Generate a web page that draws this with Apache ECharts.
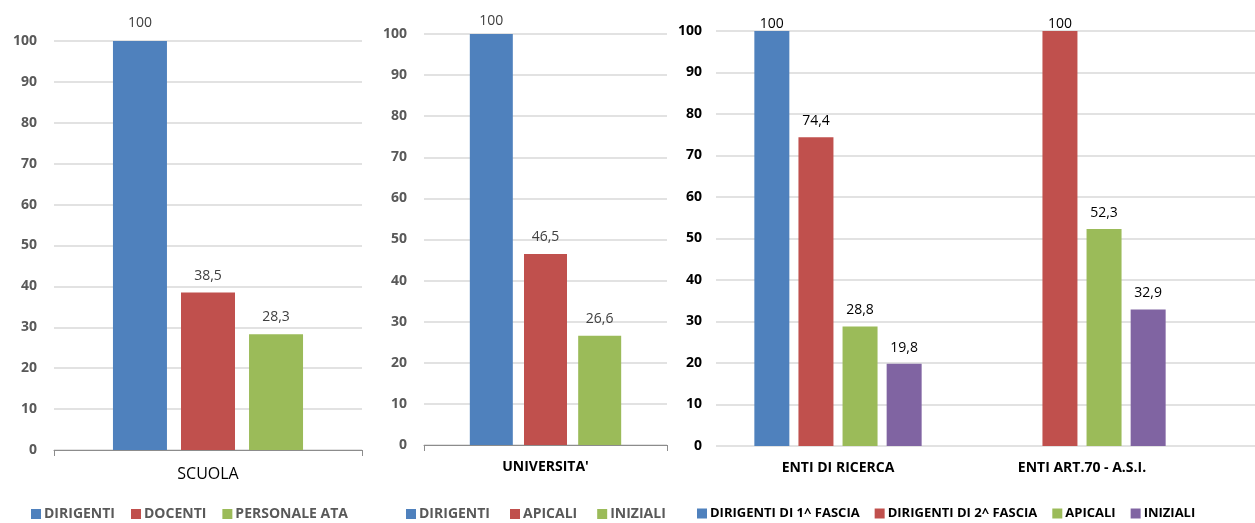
<!DOCTYPE html>
<html>
<head>
<meta charset="utf-8">
<script src="https://cdn.jsdelivr.net/npm/echarts@6/dist/echarts.min.js"></script>
<style>
  html, body { margin: 0; padding: 0; background: #fff; overflow: hidden; }
  #wrap { position: relative; width: 1255px; height: 523px; overflow: hidden; }
  .panel { position: absolute; top: 0; height: 523px; }
  #c1 { left: 0; width: 370px; }
  #c2 { left: 370px; width: 300px; }
  #c3 { left: 670px; width: 820px; }
</style>
</head>
<body>
<div id="wrap">
  <div id="c1" class="panel"></div>
  <div id="c3" class="panel"></div>
  <div id="c2" class="panel"></div>
</div>
<script>
// panel 1 - scuola
const scuolaCategories = ["SCUOLA"];
const scuolaNames = ["DIRIGENTI", "DOCENTI", "PERSONALE ATA"];
const scuolaValues = [[100], [38.5], [28.3]];

// panel 2 - universita
const uniCategories = ["UNIVERSITA'"];
const uniNames = ["DIRIGENTI", "APICALI", "INIZIALI"];
const uniValues = [[100], [46.5], [26.6]];

// panel 3 - enti (third band is the empty, cropped part of the original)
const entiCategories = ["ENTI DI RICERCA", "ENTI ART.70 - A.S.I.", ""];
const entiNames = ["DIRIGENTI DI 1^ FASCIA", "DIRIGENTI DI 2^ FASCIA", "APICALI", "INIZIALI"];
const entiValues = [
  [100, null],
  [74.4, 100],
  [28.8, 52.3],
  [19.8, 32.9]
];

const yTicks = { min: 0, max: 100, interval: 10 };

const BLUE = "#4F81BD", RED = "#C0504D", GREEN = "#9BBB59", PURPLE = "#8064A2";
const FONT = "'Open Sans', 'Liberation Sans', sans-serif";

const fmt = (p) => String(p.value).replace(".", ",");

function makeOption(cfg) {
  return {
    animation: false,
    textStyle: { fontFamily: FONT },
    grid: cfg.grid,
    legend: {
      data: cfg.names,
      left: cfg.legendLeft,
      top: 507,
      width: 1000,
      padding: 0,
      icon: "rect",
      itemWidth: 10,
      itemHeight: 10,
      itemGap: cfg.legendGap,
      textStyle: {
        fontFamily: FONT, fontSize: cfg.legendSize, fontWeight: "bold",
        color: cfg.legendColor, padding: [0, 0, 0, -2]
      }
    },
    xAxis: {
      type: "category",
      data: cfg.categories,
      axisLine: { show: cfg.axisLine, lineStyle: { color: "#8C8C8C", width: 1 } },
      axisTick: { show: cfg.axisLine, length: 6, lineStyle: { color: "#8C8C8C" } },
      axisLabel: {
        margin: cfg.xMargin,
        fontFamily: FONT,
        fontSize: cfg.xFontSize,
        fontWeight: cfg.xWeight,
        color: "#000"
      },
      splitLine: { show: false }
    },
    yAxis: {
      type: "value",
      min: yTicks.min,
      max: yTicks.max,
      interval: yTicks.interval,
      axisLine: { show: false },
      axisTick: { show: false },
      axisLabel: {
        margin: cfg.yMargin,
        fontFamily: FONT,
        fontSize: 14,
        fontWeight: "bold",
        color: cfg.yColor
      },
      splitLine: { lineStyle: { color: "#D9D9D9", width: 1.5 } }
    },
    series: cfg.names.map((name, i) => ({
      name: name,
      type: "bar",
      barWidth: cfg.barWidth,
      barGap: cfg.barGap,
      itemStyle: { color: cfg.colors[i] },
      label: {
        show: true,
        position: "top",
        distance: cfg.labelDistance,
        formatter: fmt,
        fontFamily: FONT,
        fontSize: 14,
        color: cfg.labelColor
      },
      data: cfg.values[i].map((v) =>
        v === 100 && cfg.topDistance != null
          ? { value: v, label: { distance: cfg.topDistance } }
          : v
      )
    }))
  };
}

const c1 = echarts.init(document.getElementById("c1"));
c1.setOption(makeOption({
  categories: scuolaCategories, names: scuolaNames, values: scuolaValues,
  colors: [BLUE, RED, GREEN],
  grid: { left: 54, top: 41, width: 308, height: 409 },
  barWidth: 54, barGap: "26%",
  axisLine: true, xMargin: 16, xFontSize: 16, xWeight: "normal",
  yMargin: 17, yColor: "#595959",
  labelDistance: 10, topDistance: 11, labelColor: "#404040",
  legendLeft: 31, legendGap: 16, legendSize: 14, legendColor: "#595959"
}));

const c2 = echarts.init(document.getElementById("c2"));
c2.setOption(makeOption({
  categories: uniCategories, names: uniNames, values: uniValues,
  colors: [BLUE, RED, GREEN],
  grid: { left: 54, top: 34, width: 243, height: 411 },
  barWidth: 43, barGap: "26%",
  axisLine: true, xMargin: 15, xFontSize: 14, xWeight: "bold",
  yMargin: 17, yColor: "#595959",
  labelDistance: 10, topDistance: 6, labelColor: "#404040",
  legendLeft: 36, legendGap: 20, legendSize: 14, legendColor: "#595959"
}));

const c3 = echarts.init(document.getElementById("c3"));
c3.setOption(makeOption({
  categories: entiCategories, names: entiNames, values: entiValues,
  colors: [BLUE, RED, GREEN, PURPLE],
  grid: { left: 46, top: 31, width: 732, height: 415 },
  barWidth: 35, barGap: "26%",
  axisLine: false, xMargin: 15, xFontSize: 14, xWeight: "bold",
  yMargin: 14, yColor: "#000",
  labelDistance: 9, topDistance: 0, labelColor: "#000",
  legendLeft: 27, legendGap: 15, legendSize: 13, legendColor: "#000"
}));
</script>
</body>
</html>
